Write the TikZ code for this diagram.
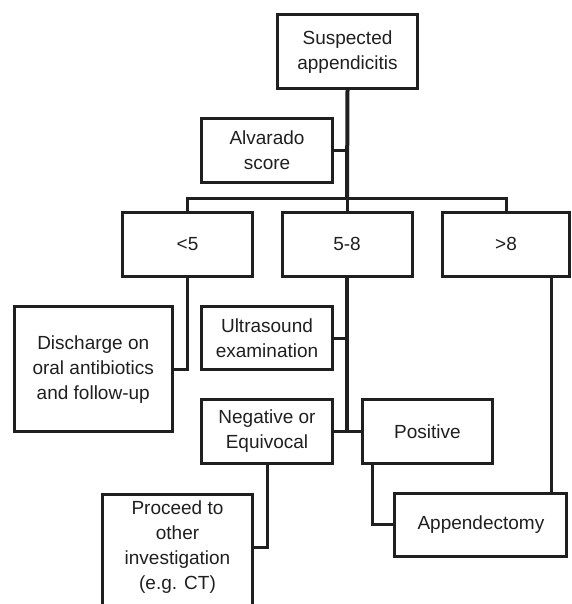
\documentclass[tikz,border=0pt]{standalone}
\usepackage{fontspec}
\setmainfont{Liberation Sans}
\usetikzlibrary{calc}
\begin{document}
\begin{tikzpicture}[x=1pt,y=-1pt,
  box/.style={draw=black!88, line width=3pt, inner sep=0pt, align=center,
    font=\fontsize{19}{25}\selectfont, text=black!88},
  txt/.style={inner sep=0pt, align=center, font=\fontsize{19}{25}\selectfont, text=black!88},
  conn/.style={draw=black!88, line width=3pt},
  trunk/.style={draw=black!88, line width=4pt}]
\useasboundingbox (0,0) rectangle (571,604);
\clip (0,0) rectangle (571,604);
% boxes
\node[box, minimum width=140pt, minimum height=73.7pt] (susp) at (347.5,51.7) {Suspected\\appendicitis};
\node[box, minimum width=131pt, minimum height=64pt] (alv) at (267,150.2) {Alvarado\\score};
\node[box, minimum width=130pt, minimum height=64pt] (lt5) at (187.5,244.2) {<5};
\node[box, minimum width=130pt, minimum height=64pt] (mid) at (347,244.2) {5-8};
\node[box, minimum width=127pt, minimum height=64pt] (gt8) at (506,244.2) {>8};
\node[box, minimum width=158pt, minimum height=125pt] (disc) at (93.25,369.2) {Discharge on\\oral antibiotics\\and follow-up};
\node[box, minimum width=131pt, minimum height=63pt] (ultra) at (267,338) {Ultrasound\\examination};
\node[box, minimum width=131pt, minimum height=63.4pt] (neg) at (267,431.5) {Negative or\\Equivocal};
\node[box, minimum width=130.7pt, minimum height=63.4pt] (pos) at (427.5,431.5) {Positive};
\node[box, minimum width=150pt, minimum height=150pt, anchor=north] (proc) at (177.5,493.2) {};
\node[txt] (proctxt) at (177.5,547) {Proceed to\\other\\investigation\\(e.g. CT)};
\node[box, minimum width=172pt, minimum height=63pt] (app) at (480.9,524.9) {Appendectomy};
% connectors
\coordinate (junction) at (347,198.3);
\draw[trunk] (susp.south) -- (junction);
\draw[conn] (alv.east) -- (alv.east -| junction);
\draw[conn] (lt5.north) |- (junction) -| (gt8.north);
\draw[conn] (junction) -- (mid.north);
\draw[conn] (lt5.south) |- (disc.east);
\draw[trunk] (mid.south) -- (mid.south |- neg.east);
\draw[conn] (ultra.east) -- (ultra.east -| mid.south);
\draw[conn] (neg.east) -- (pos.west);
\draw[conn] (neg.south) |- (proctxt.east -| proc.east);
\coordinate (posdrop) at ($(pos.south west)+(12.3,0)$);
\draw[conn] (posdrop) |- (app.west);
\coordinate (gtdrop) at ($(gt8.south)+(45,0)$);
\draw[conn] (gtdrop) -- (gtdrop |- app.north);
\end{tikzpicture}
\end{document}
